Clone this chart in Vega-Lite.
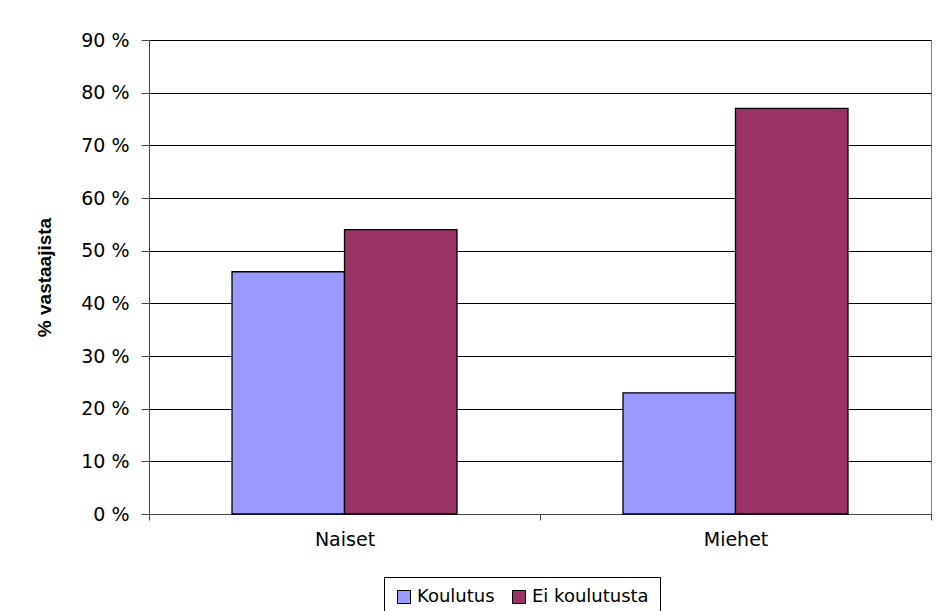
{
  "$schema": "https://vega.github.io/schema/vega-lite/v6.json",
  "width": 782,
  "height": 474,
  "autosize": {"type": "none"},
  "padding": {"left": 149, "top": 40, "right": 13, "bottom": 97},
  "background": "white",
  "config": {
    "view": {"stroke": "#808080", "strokeWidth": 1},
    "font": "DejaVu Sans"
  },
  "data": {
    "values": [
      {"ryhma": "Naiset", "sarja": "Koulutus", "arvo": 46},
      {"ryhma": "Naiset", "sarja": "Ei koulutusta", "arvo": 54},
      {"ryhma": "Miehet", "sarja": "Koulutus", "arvo": 23},
      {"ryhma": "Miehet", "sarja": "Ei koulutusta", "arvo": 77}
    ]
  },
  "mark": {"type": "bar", "stroke": "black", "strokeWidth": 1.3},
  "encoding": {
    "x": {
      "field": "ryhma",
      "type": "nominal",
      "sort": ["Naiset", "Miehet"],
      "scale": {"paddingInner": 0, "paddingOuter": 0},
      "axis": {
        "title": null,
        "labelAngle": 0,
        "labelFont": "DejaVu Sans",
        "labelFontSize": 19,
        "labelColor": "black",
        "labelPadding": 10,
        "tickBand": "extent",
        "tickSize": 6,
        "tickColor": "#444",
        "domainColor": "#444",
        "grid": false
      }
    },
    "xOffset": {
      "field": "sarja",
      "type": "nominal",
      "sort": ["Koulutus", "Ei koulutusta"],
      "scale": {"paddingInner": 0, "paddingOuter": 0.738}
    },
    "y": {
      "field": "arvo",
      "type": "quantitative",
      "scale": {"domain": [0, 90], "nice": false},
      "axis": {
        "title": "% vastaajista",
        "titleFont": "Liberation Sans",
        "titleFontSize": 19,
        "titleFontWeight": "bold",
        "titleColor": "black",
        "titlePadding": 26,
        "values": [0, 10, 20, 30, 40, 50, 60, 70, 80, 90],
        "labelExpr": "datum.value + ' %'",
        "labelFont": "DejaVu Sans",
        "labelFontSize": 19,
        "labelColor": "black",
        "labelPadding": 12,
        "tickSize": 8,
        "tickColor": "#444",
        "domainColor": "#444",
        "grid": true,
        "gridColor": "black",
        "gridOpacity": 1,
        "gridWidth": 1
      }
    },
    "color": {
      "field": "sarja",
      "type": "nominal",
      "sort": ["Koulutus", "Ei koulutusta"],
      "scale": {"domain": ["Koulutus", "Ei koulutusta"], "range": ["#9999ff", "#993366"]},
      "legend": {
        "title": null,
        "orient": "none",
        "direction": "horizontal",
        "legendX": 235,
        "legendY": 537,
        "symbolType": "square",
        "symbolSize": 169,
        "symbolStrokeColor": "black",
        "symbolStrokeWidth": 1,
        "symbolOpacity": 1,
        "labelFont": "DejaVu Sans",
        "labelFontSize": 18,
        "labelColor": "black",
        "labelOffset": 4,
        "columnPadding": 15,
        "strokeColor": "black",
        "padding": 11
      }
    }
  }
}
